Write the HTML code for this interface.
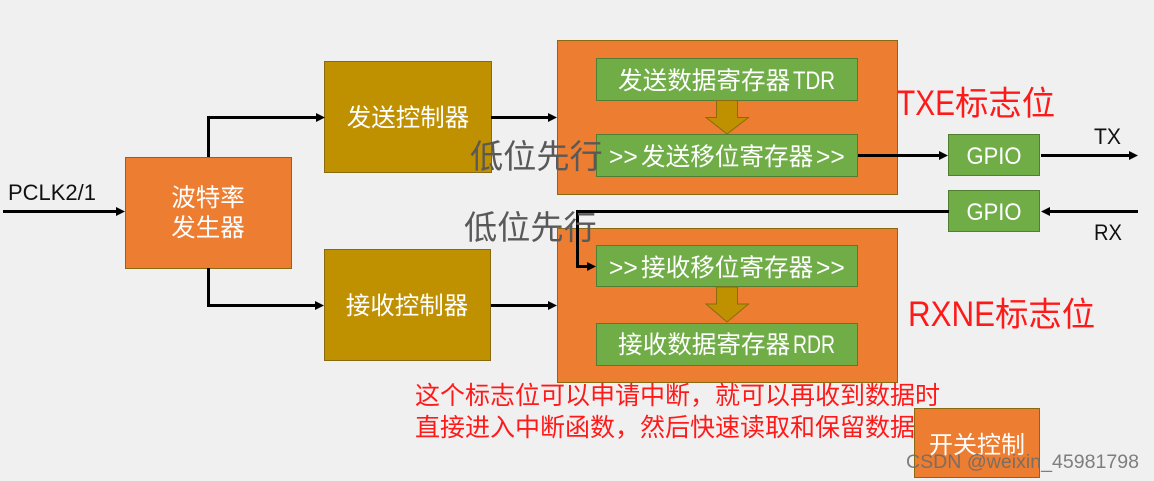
<!DOCTYPE html>
<html><head><meta charset="utf-8"><style>
html,body{margin:0;padding:0;background:#f0f0f0;width:1154px;height:481px;overflow:hidden}
svg{display:block}
text{font-family:"Liberation Sans","Noto Sans CJK SC",sans-serif}
.w{fill:#fff;font-size:24.5px;text-anchor:middle}
.s{fill:#fff;font-size:24.6px}
.k{fill:#111;font-size:22px}
.r{fill:#ff1a1a}
.g{fill:#595959;font-size:33.2px}
.o{fill:#ed7d31;stroke:#8a6a10;stroke-width:1}
.y{fill:#bf9000;stroke:#8a6a10;stroke-width:1}
.n{fill:#70ad47;stroke:#507e32;stroke-width:1}
.l{fill:none;stroke:#000;stroke-width:3}
</style></head><body>
<svg width="1154" height="481" viewBox="0 0 1154 481" xmlns="http://www.w3.org/2000/svg">
<rect width="1154" height="481" fill="#f0f0f0"/>
<rect class="o" x="125.5" y="157.5" width="166" height="111"/>
<rect class="y" x="324.5" y="61.5" width="167" height="111"/>
<rect class="y" x="324.5" y="249.5" width="166" height="111"/>
<rect class="o" x="557.5" y="40.5" width="340" height="154"/>
<rect class="o" x="557.5" y="228.500" width="340" height="154"/>
<rect class="n" x="596.5" y="58.5" width="261" height="42"/>
<rect class="n" x="596.5" y="134.5" width="261" height="42"/>
<rect class="n" x="596.5" y="245.5" width="261" height="41"/>
<rect class="n" x="596.5" y="323.5" width="261" height="42"/>
<rect class="n" x="948.5" y="134.5" width="91" height="41"/>
<rect class="n" x="948.5" y="190.5" width="91" height="41"/>
<rect class="o" x="914.5" y="408.5" width="125" height="69"/>
<polygon class="y" points="716.5,100.5 737.5,100.5 737.5,117.5 748.5,117.5 727,134 706,117.5 716.5,117.5"/>
<polygon class="y" points="716.5,287 737.5,287 737.5,304 748.5,304 727,322 706,304 716.5,304"/>

<path class="l" d="M3 211.500H118"/><polygon points="116,207 125,211.500 116,216"/>
<path class="l" d="M208.500 157V117.500H318"/><polygon points="316,113 325,117.500 316,122"/>
<path class="l" d="M208.500 268V305.500H317"/><polygon points="315,301 324,305.500 315,310"/>
<path class="l" d="M491 117.500H550"/><polygon points="548,113 557,117.500 548,122"/>
<path class="l" d="M491 305.500H550"/><polygon points="548,301 557,305.500 548,310"/>
<path class="l" d="M858 155.500H941"/><polygon points="939,151 948,155.500 939,160"/>
<path class="l" d="M1041 155.500H1131"/><polygon points="1129,151 1138,155.500 1129,160"/>
<path class="l" d="M1138 211.500H1048"/><polygon points="1050,207 1041,211.500 1050,216"/>
<path class="l" d="M949 211.500H577.500V266.500H589"/><polygon points="587,262 596,266.500 587,271"/>

<text class="k" x="8" y="200" textLength="88" lengthAdjust="spacingAndGlyphs">PCLK2/1</text>
<text class="k" x="1094" y="144" textLength="27" lengthAdjust="spacingAndGlyphs">TX</text>
<text class="k" x="1094" y="240" textLength="28" lengthAdjust="spacingAndGlyphs">RX</text>

<text class="w" x="208" y="206">波特率</text>
<text class="w" x="208" y="236">发生器</text>
<text class="w" x="408" y="126">发送控制器</text>
<text class="w" x="407" y="314">接收控制器</text>

<text class="s" x="618" y="89">发送数据寄存器</text>
<text class="s" x="793" y="89" textLength="42" lengthAdjust="spacingAndGlyphs">TDR</text>
<text class="s" x="609" y="165">&gt;&gt;</text>
<text class="s" x="641" y="165">发送移位寄存器</text>
<text class="s" x="816" y="165">&gt;&gt;</text>
<text class="s" x="609" y="276">&gt;&gt;</text>
<text class="s" x="641" y="276">接收移位寄存器</text>
<text class="s" x="816" y="276">&gt;&gt;</text>
<text class="s" x="618" y="353">接收数据寄存器</text>
<text class="s" x="793" y="353" textLength="42" lengthAdjust="spacingAndGlyphs">RDR</text>

<text class="w" x="994" y="164" textLength="55" lengthAdjust="spacingAndGlyphs">GPIO</text>
<text class="w" x="994" y="220" textLength="55" lengthAdjust="spacingAndGlyphs">GPIO</text>
<text class="w" x="977" y="453" style="font-size:24px">开关控制</text>

<text class="g" x="470" y="168">低位先行</text>
<text class="g" x="464" y="239">低位先行</text>

<text class="r" x="897" y="115" font-size="35" textLength="58" lengthAdjust="spacingAndGlyphs">TXE</text>
<text class="r" x="955" y="115" font-size="33.4">标志位</text>
<text class="r" x="908" y="326" font-size="35" textLength="87" lengthAdjust="spacingAndGlyphs">RXNE</text>
<text class="r" x="995" y="326" font-size="33.4">标志位</text>
<text class="r" x="415" y="404" font-size="25">这个标志位可以申请中断，就可以再收到数据时</text>
<text class="r" x="415" y="436" font-size="25">直接进入中断函数，然后快速读取和保留数据</text>

<text x="906" y="468" font-size="19" fill="#6a6a6a" fill-opacity="0.85" textLength="233" lengthAdjust="spacingAndGlyphs">CSDN @weixin_45981798</text>
</svg>
</body></html>
